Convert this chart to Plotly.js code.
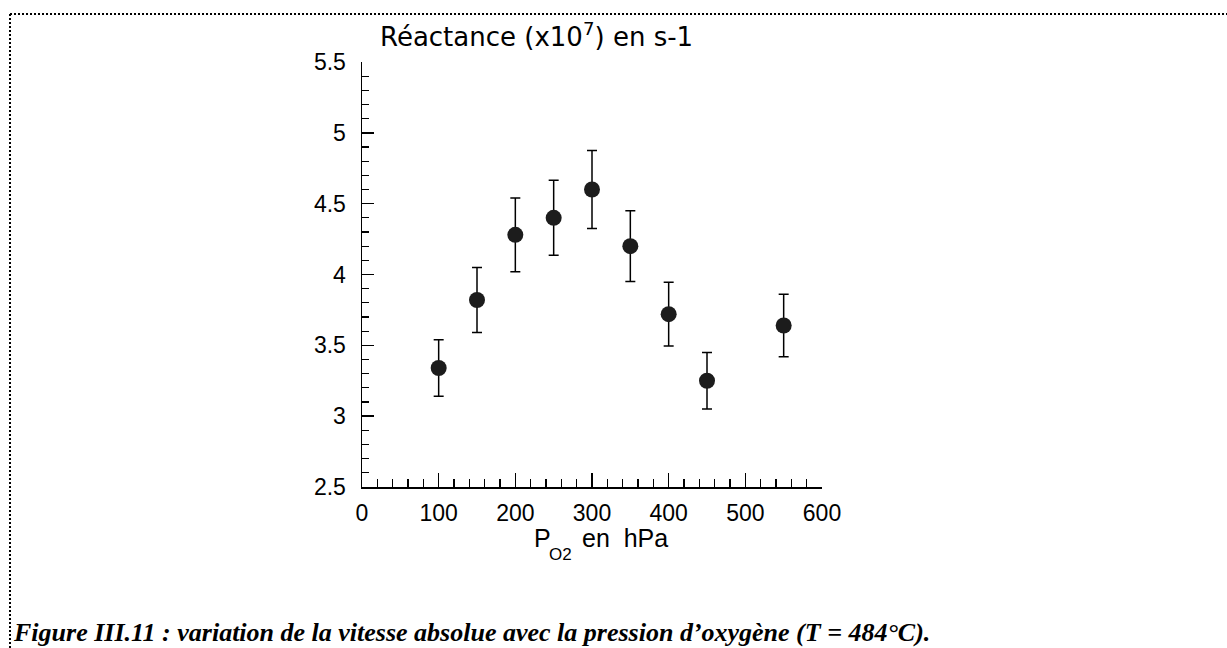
<!DOCTYPE html>
<html>
<head>
<meta charset="utf-8">
<script src="https://cdn.plot.ly/plotly-3.0.1.min.js"></script>
<style>
  html, body { margin: 0; padding: 0; background: #fff; }
  #chart { width: 1227px; height: 648px; }
</style>
</head>
<body>
<div id="chart"></div>
<script>
// Data
const pressureHPa = [100, 150, 200, 250, 300, 350, 400, 450, 550];
const reactance = [3.34, 3.82, 4.28, 4.40, 4.60, 4.20, 3.72, 3.25, 3.64];
const reactanceErr = [0.20, 0.23, 0.26, 0.265, 0.275, 0.25, 0.225, 0.20, 0.22];

const yTitleText = 'Réactance (x10<sup>7</sup>) en s-1';
const xTitleMain = 'P';
const xTitleSub = 'O2';
const xTitleRest = 'en  hPa';
const captionText = 'Figure III.11 : variation de la vitesse absolue avec la pression d’oxygène (T = 484°C).';

// Pixel geometry helpers (layout only)
const W = 1227, H = 648;
const L = 362, R = 822, T = 62, B = 487;
const px = v => (v - L) / (R - L);
const py = v => (B - v) / (B - T);

const sans = 'Liberation Sans, Arial, Helvetica, sans-serif';
const wideSans = 'DejaVu Sans, Liberation Sans, sans-serif';
const serif = 'Liberation Serif, Times New Roman, serif';

const trace = {
  type: 'scatter',
  mode: 'markers',
  x: pressureHPa,
  y: reactance,
  marker: { size: 16, color: '#1c1c1c', line: { width: 0 } },
  error_y: {
    type: 'data',
    array: reactanceErr,
    visible: true,
    color: '#000',
    thickness: 1.5,
    width: 5
  },
  hoverinfo: 'x+y',
  showlegend: false
};

const layout = {
  width: W,
  height: H,
  margin: { l: L, r: W - R, t: T, b: H - B, pad: 0 },
  paper_bgcolor: '#fff',
  plot_bgcolor: '#fff',
  showlegend: false,
  font: { family: sans, color: '#000', size: 23 },
  xaxis: {
    range: [0, 600],
    dtick: 100,
    tick0: 0,
    ticks: 'inside',
    ticklen: 14,
    tickwidth: 1.5,
    tickcolor: '#000',
    minor: { dtick: 20, ticks: 'inside', ticklen: 8, tickwidth: 1.2, tickcolor: '#000' },
    showline: true,
    linecolor: '#000',
    linewidth: 1.5,
    showgrid: false,
    zeroline: false,
    ticklabelstandoff: 5,
    tickfont: { family: sans, size: 23, color: '#000' },
    automargin: false,
    fixedrange: true
  },
  yaxis: {
    range: [2.5, 5.5],
    dtick: 0.5,
    tick0: 2.5,
    ticks: 'inside',
    ticklen: 12,
    tickwidth: 1.5,
    tickcolor: '#000',
    minor: { dtick: 0.1, ticks: 'inside', ticklen: 7, tickwidth: 1.2, tickcolor: '#000' },
    showline: true,
    linecolor: '#000',
    linewidth: 1.5,
    showgrid: false,
    zeroline: false,
    ticklabelstandoff: 10,
    tickfont: { family: sans, size: 23, color: '#000' },
    automargin: false,
    fixedrange: true
  },
  annotations: [
    {
      text: yTitleText,
      xref: 'paper', yref: 'paper',
      x: px(378), y: py(35),
      xanchor: 'left', yanchor: 'middle',
      showarrow: false,
      font: { family: wideSans, size: 26, color: '#000' }
    },
    {
      text: xTitleMain,
      xref: 'paper', yref: 'paper',
      x: px(532), y: py(538),
      xanchor: 'left', yanchor: 'middle',
      showarrow: false,
      font: { family: sans, size: 25, color: '#000' }
    },
    {
      text: xTitleSub,
      xref: 'paper', yref: 'paper',
      x: px(547), y: py(554),
      xanchor: 'left', yanchor: 'middle',
      showarrow: false,
      font: { family: sans, size: 17, color: '#000' }
    },
    {
      text: xTitleRest,
      xref: 'paper', yref: 'paper',
      x: px(580), y: py(538),
      xanchor: 'left', yanchor: 'middle',
      showarrow: false,
      font: { family: sans, size: 25, color: '#000' }
    },
    {
      text: captionText,
      xref: 'paper', yref: 'paper',
      x: px(11), y: py(632),
      xanchor: 'left', yanchor: 'middle',
      showarrow: false,
      font: { family: serif, size: 26, color: '#000', weight: 'bold', style: 'italic' }
    }
  ],
  shapes: [
    {
      type: 'line', xref: 'paper', yref: 'paper',
      x0: px(10), x1: px(1227), y0: py(14), y1: py(14),
      line: { color: '#000', width: 2, dash: '2px,2px' }
    },
    {
      type: 'line', xref: 'paper', yref: 'paper',
      x0: px(10), x1: px(10), y0: py(14), y1: py(648),
      line: { color: '#000', width: 2, dash: '2px,2px' }
    }
  ]
};

Plotly.newPlot('chart', [trace], layout, { displayModeBar: false, staticPlot: true });
</script>
</body>
</html>
